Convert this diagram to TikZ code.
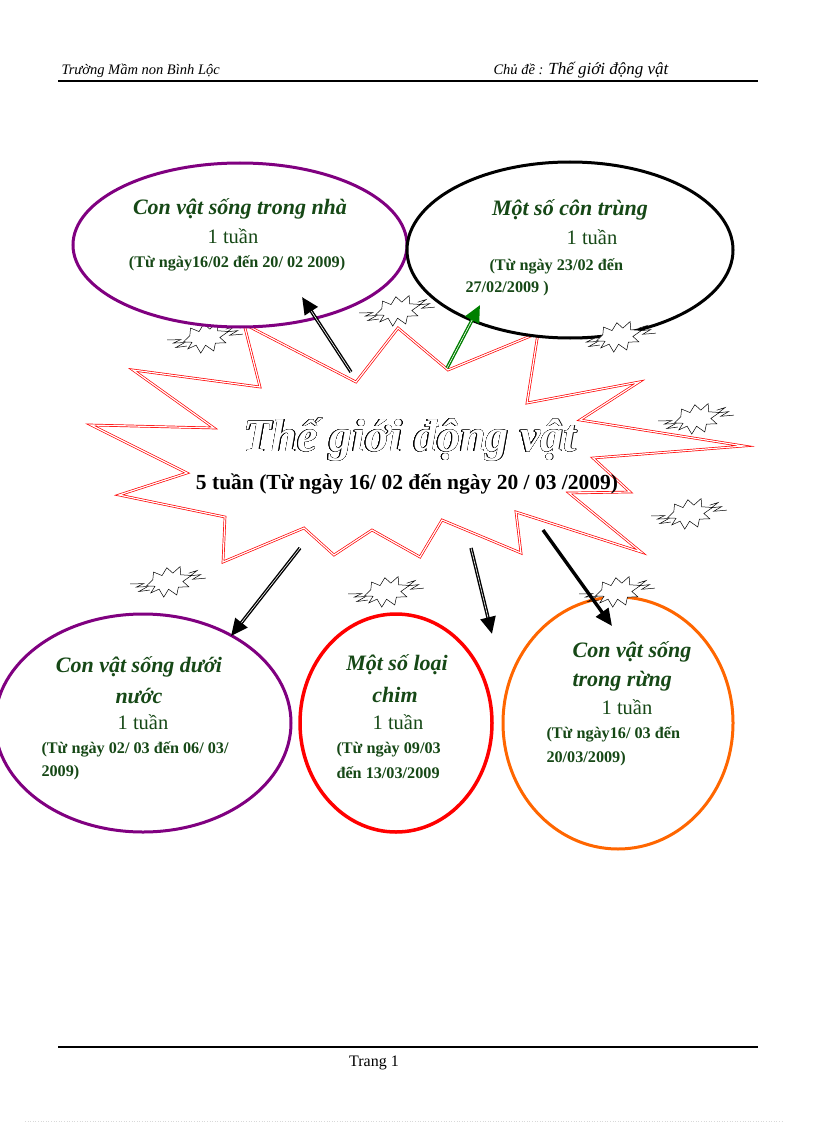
\documentclass[tikz,border=0pt]{standalone}
\usepackage{fontspec}
\setmainfont{Liberation Serif}
\usepackage[copies]{contour}
\usetikzlibrary{shapes.geometric,arrows.meta}
\definecolor{dgreen}{RGB}{22,72,22}
\definecolor{tgreen}{RGB}{0,128,0}
\definecolor{vpurple}{RGB}{128,0,128}
\definecolor{vorange}{RGB}{255,102,0}
\tikzset{
  bubble/.style={ellipse, fill=white, inner sep=0pt},
  title/.style={font=\fontsize{22}{24}\selectfont\bfseries\itshape, text=dgreen},
  week/.style={font=\fontsize{20.5}{22}\selectfont, text=dgreen},
  datetxt/.style={font=\fontsize{16.2}{18}\selectfont\bfseries, text=dgreen},
  bigarrow/.style={-{Triangle[length=17pt,width=15pt]}, line width=3.4pt, black},
  burst/.pic={
    \draw[fill=white, line width=0.5pt] (-22,-2) -- (-14,-6) -- (-11,-13) -- (-4,-7) -- (3,-13) -- (7,-6) -- (16,-10) -- (14,-2) -- (24,2) -- (14,5) -- (18,12) -- (8,9) -- (4,16) -- (-2,8) -- (-9,14) -- (-11,5) -- (-20,6) -- (-14,1) -- cycle;
    \draw[line width=0.5pt] (-37,-9) -- (-24,-5) -- (-32,-4) -- (-21,-1) -- (-31,1) -- (-20,3);
    \draw[line width=0.5pt] (37,9) -- (24,6) -- (33,4) -- (23,2) -- (31,-1) -- (22,-1);
  }
}
\begin{document}
\begin{tikzpicture}[x=1pt,y=-1pt]
\useasboundingbox (0,0) rectangle (816,1123);
% header
\draw[line width=1.6pt] (58,81) -- (758,81);
\node[anchor=base west, font=\fontsize{14.5}{16}\selectfont\itshape] (hl) at (58,75) {Trường Mầm non Bình Lộc};
\node[anchor=base west, font=\fontsize{14.5}{16}\selectfont\itshape] (hr) at (490,75) {Chủ đề : \fontsize{17}{18}\selectfont Thế giới động vật};
% footer
\draw[line width=1.6pt] (58,1047) -- (758,1047);
\node[font=\fontsize{16}{17}\selectfont] (ft) at (374,1063) {Trang 1};
\draw[gray!30, dotted, line width=0.6pt] (25,1121) -- (782,1121);

% central starburst
\draw[red, double=white, double distance=1.2pt, line width=0.7pt]
 (244,324) -- (260,387) -- (133,370) -- (214,428) -- (91,425) -- (187,473) -- (119,495) -- (225,517) -- (223,562) -- (304,528) -- (334,555) -- (372,530) -- (420,557) -- (442,520) -- (521,553) -- (516,512) -- (641,552) -- (569,493) -- (630,492) -- (593,458) -- (744,446) -- (580,420) -- (639,382) -- (527,403) -- (538,333) -- (448,370) -- (398,328) -- (356,382) -- cycle;
\node (center) at (410,440) {\fontsize{46}{48}\selectfont\bfseries\itshape\contourlength{0.45pt}\contour{black}{\color{white}Thế giới động vật}};
\node[font=\fontsize{21.5}{23}\selectfont\bfseries] (sub) at (407,484) {5 tuần (Từ ngày 16/ 02 đến ngày 20 / 03 /2009)};

\pic[rotate=18] at (205,337) {burst};

% ellipses
\node[bubble, draw=vpurple, line width=3pt, minimum width=334pt, minimum height=164pt] (e1) at (240,245) {};
\node[bubble, draw=black, line width=3pt, minimum width=326pt, minimum height=176pt] (e2) at (570,250) {};
\node[bubble, draw=vpurple, line width=3pt, minimum width=296pt, minimum height=218pt] (e3) at (143,723) {};
\node[bubble, draw=red, line width=3.5pt, minimum width=192pt, minimum height=218pt] (e4) at (396,723) {};
\node[bubble, draw=vorange, line width=3pt, minimum width=230pt, minimum height=252pt] (e5) at (618,723) {};

% texts top-left
\node[title] (t1) at (240,209) {Con vật sống trong nhà};
\node[week] (w1) at (233,236) {1 tuần};
\node[datetxt] (d1) at (237,263) {(Từ ngày16/02 đến 20/ 02 2009)};
% top-right
\node[title] (t2) at (570,210) {Một số côn trùng};
\node[week] (w2) at (592,237) {1 tuần};
\node[datetxt, anchor=west] (d2a) at (486,266) {(Từ ngày 23/02 đến};
\node[datetxt, anchor=west] (d2b) at (462,289) {27/02/2009 )};
% bottom-left
\node[title] (t3) at (139,667) {Con vật sống dưới};
\node[title] (t3b) at (139,696) {nước};
\node[week] (w3) at (143,722) {1 tuần};
\node[datetxt, anchor=west] (d3a) at (38,749) {(Từ ngày 02/ 03 đến 06/ 03/};
\node[datetxt, anchor=west] (d3b) at (38,773) {2009)};
% red
\node[title] (t4) at (397,665) {Một số loại};
\node[title] (t4b) at (395,695) {chim};
\node[week] (w4) at (398,722) {1 tuần};
\node[datetxt, anchor=west] (d4a) at (333,750) {(Từ ngày 09/03};
\node[datetxt, anchor=west] (d4b) at (333,773) {đến 13/03/2009};
% orange
\node[title] (t5) at (632,652) {Con vật sống};
\node[title, anchor=west] (t5b) at (569,681) {trong rừng};
\node[week] (w5) at (627,707) {1 tuần};
\node[datetxt, anchor=west] (d5a) at (543,734) {(Từ ngày16/ 03 đến};
\node[datetxt, anchor=west] (d5b) at (543,759) {20/03/2009)};

% arrows
\coordinate (a1s) at (351,372); \coordinate (a1e) at (302,297);
\coordinate (a2s) at (447,368); \coordinate (a2e) at (480,305);
\coordinate (a3s) at (300,548); \coordinate (a3e) at (231,636);
\coordinate (a4s) at (471,548); \coordinate (a4e) at (492,634);
\coordinate (a5s) at (543,530); \coordinate (a5e) at (612,626);
\draw[bigarrow] (a1s) -- (a1e);
\draw[bigarrow, tgreen] (a2s) -- (a2e);
\draw[bigarrow] (a3s) -- (a3e);
\draw[bigarrow] (a4s) -- (a4e);
\draw[bigarrow] (a5s) -- (a5e);
\draw[white, line width=0.6pt, shorten >=17pt] (a1s) -- (a1e);
\draw[white, line width=0.6pt, shorten >=17pt] (a2s) -- (a2e);
\draw[white, line width=0.6pt, shorten >=17pt] (a3s) -- (a3e);
\draw[white, line width=0.6pt, shorten >=17pt] (a4s) -- (a4e);

% small bursts
\pic[rotate=18] at (397,310) {burst};
\pic[rotate=18] at (618,336) {burst};
\pic[rotate=18] at (696,418) {burst};
\pic[rotate=18] at (689,513) {burst};
\pic[rotate=18] at (168,581) {burst};
\pic[rotate=18] at (386,591) {burst};
\pic[rotate=18] at (617,591) {burst};
\end{tikzpicture}
\end{document}
